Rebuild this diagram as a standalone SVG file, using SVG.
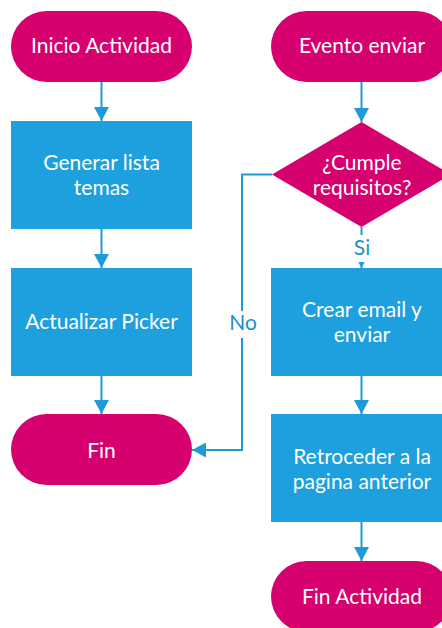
<svg xmlns="http://www.w3.org/2000/svg" width="442" height="628" viewBox="0 0 442 628">
<style>
.term{fill:#D6006F}
.proc{fill:#1EA0DF}
.t{font-family:Lato,"Open Sans","Liberation Sans",sans-serif;font-size:21px;fill:#FFFFFF;text-anchor:middle}
.lbl{font-family:Lato,"Open Sans","Liberation Sans",sans-serif;font-size:21px;fill:#1E8FCB;text-anchor:middle}
.c{fill:none;stroke:#1E9BD7;stroke-width:2}
</style>
<defs>
<marker id="ah" markerUnits="userSpaceOnUse" markerWidth="15" markerHeight="15" refX="14" refY="7.5" orient="auto">
<path d="M0,0 L14,7.5 L0,15 Z" fill="#1E9BD7"/>
</marker>
</defs>
<rect width="442" height="628" fill="#FFFFFF"/>
<g id="connectors">
<path class="c" d="M101.5,82 V121" marker-end="url(#ah)"/>
<path class="c" d="M101.5,229 V268" marker-end="url(#ah)"/>
<path class="c" d="M101.5,376 V414" marker-end="url(#ah)"/>
<path class="c" d="M361.5,82 V122" marker-end="url(#ah)"/>
<path class="c" d="M361.5,227 V268" marker-end="url(#ah)"/>
<path class="c" d="M361.5,376 V414" marker-end="url(#ah)"/>
<path class="c" d="M361.5,522 V561" marker-end="url(#ah)"/>
<path class="c" d="M272,174.5 H242 V450 H192" marker-end="url(#ah)"/>
<rect x="349" y="235" width="25" height="27" fill="#FFFFFF"/>
<text class="lbl" x="362" y="255">Si</text>
<rect x="228" y="311" width="30" height="27" fill="#FFFFFF"/>
<text class="lbl" x="243" y="330">No</text>
</g>
<g id="inicio">
<rect class="term" x="11" y="11" width="181" height="71" rx="35.5"/>
<text class="t" x="101.5" y="53">Inicio Actividad</text>
</g>
<g id="generar">
<rect class="proc" x="11" y="121" width="181" height="108"/>
<text class="t" x="101.5" y="170">Generar lista</text>
<text class="t" x="101.5" y="195">temas</text>
</g>
<g id="actualizar">
<rect class="proc" x="11" y="268" width="181" height="108"/>
<text class="t" x="101.5" y="329">Actualizar Picker</text>
</g>
<g id="fin">
<rect class="term" x="11" y="414" width="181" height="71" rx="35.5"/>
<text class="t" x="101.5" y="458">Fin</text>
</g>
<g id="evento">
<rect class="term" x="271" y="11" width="181" height="71" rx="35.5"/>
<text class="t" x="362" y="53">Evento enviar</text>
</g>
<g id="cumple">
<polygon class="term" points="361.5,122 451,174.5 361.5,227 272,174.5"/>
<text class="t" x="362" y="170">¿Cumple</text>
<text class="t" x="362" y="195">requisitos?</text>
</g>
<g id="crear">
<rect class="proc" x="271" y="268" width="181" height="108"/>
<text class="t" x="362" y="317">Crear email y</text>
<text class="t" x="362" y="342">enviar</text>
</g>
<g id="retroceder">
<rect class="proc" x="271" y="414" width="181" height="108"/>
<text class="t" x="362" y="464">Retroceder a la</text>
<text class="t" x="362" y="489">pagina anterior</text>
</g>
<g id="finactividad">
<rect class="term" x="271" y="561" width="181" height="71" rx="35.5"/>
<text class="t" x="362" y="604">Fin Actividad</text>
</g>
</svg>
